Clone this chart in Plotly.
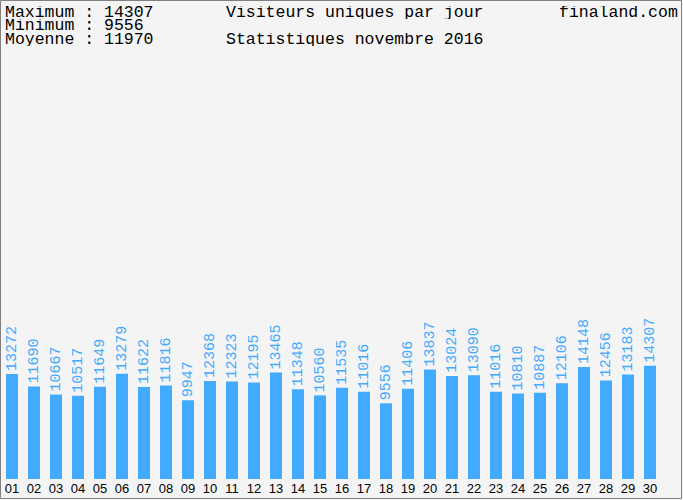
import plotly.graph_objects as go

days = ["01","02","03","04","05","06","07","08","09","10",
        "11","12","13","14","15","16","17","18","19","20",
        "21","22","23","24","25","26","27","28","29","30"]
visitors = [13272, 11690, 10667, 10517, 11649, 13279, 11622, 11816, 9947, 12368,
            12323, 12195, 13465, 11348, 10560, 11535, 11016, 9556, 11406, 13837,
            13024, 13090, 11016, 10810, 10887, 12106, 14148, 12456, 13183, 14307]
header_left = ["Maximum : 14307", "Minimum : 9556", "Moyenne : 11970"]
title_line1 = "Visiteurs uniques par jour"
title_line2 = "Statistiques novembre 2016"
site = "finaland.com"

BAR = "#42aaff"
BG = "#f4f4f4"

# plot area geometry (px): x 1..661, y 60..479
L, R, T, B = 1, 22, 60, 21
W, H = 683 - L - R, 500 - T - B

def px_x(px):
    return (px - L) / W

def px_y(py):
    return (500 - B - py) / H

fig = go.Figure(go.Bar(
    x=days, y=visitors,
    marker=dict(color=BAR, line=dict(width=0)),
    text=[str(v) for v in visitors],
    textposition="outside",
    textangle=-90,
    constraintext="none",
    cliponaxis=False,
    textfont=dict(family="Liberation Mono", size=15, color=BAR),
    hoverinfo="skip",
))

HFONT = dict(family="Liberation Mono", size=16.5, color="#000")
annotations = []
ys = [12, 25.5, 39.5]
for txt, yy in zip(header_left, ys):
    annotations.append(dict(text=txt, x=px_x(4), y=px_y(yy), xref="paper", yref="paper",
                            xanchor="left", yanchor="middle", showarrow=False,
                            height=13, borderpad=0, font=HFONT))
annotations.append(dict(text=title_line1, x=px_x(225), y=px_y(12), xref="paper", yref="paper",
                        xanchor="left", yanchor="middle", showarrow=False,
                        height=13, borderpad=0, font=HFONT))
annotations.append(dict(text=title_line2, x=px_x(225), y=px_y(39.5), xref="paper", yref="paper",
                        xanchor="left", yanchor="middle", showarrow=False,
                        height=13, borderpad=0, font=HFONT))
annotations.append(dict(text=site, x=px_x(679), y=px_y(12), xref="paper", yref="paper",
                        xanchor="right", yanchor="middle", showarrow=False,
                        height=13, borderpad=0, font=HFONT))

fig.update_layout(
    width=683, height=500,
    margin=dict(l=L, r=R, t=T, b=B, pad=0),
    paper_bgcolor=BG, plot_bgcolor=BG,
    bargap=10 / 22,
    showlegend=False,
    xaxis=dict(type="category", range=[-0.5, 29.5], showgrid=False, zeroline=False,
               showline=False, ticks="", fixedrange=True,
               tickfont=dict(family="Liberation Sans", size=13, color="#000")),
    yaxis=dict(range=[0, H * 126.3], visible=False, showgrid=False, fixedrange=True),
    annotations=annotations,
    shapes=[dict(type="rect", xref="paper", yref="paper",
                 x0=px_x(0.5), x1=px_x(681.5), y0=px_y(498.5), y1=px_y(0.5),
                 line=dict(color="#808080", width=1), fillcolor="rgba(0,0,0,0)")],
)

fig.write_html("out.html", config={"displayModeBar": False},
               post_script="document.body.style.margin='0';document.body.style.padding='0';")
